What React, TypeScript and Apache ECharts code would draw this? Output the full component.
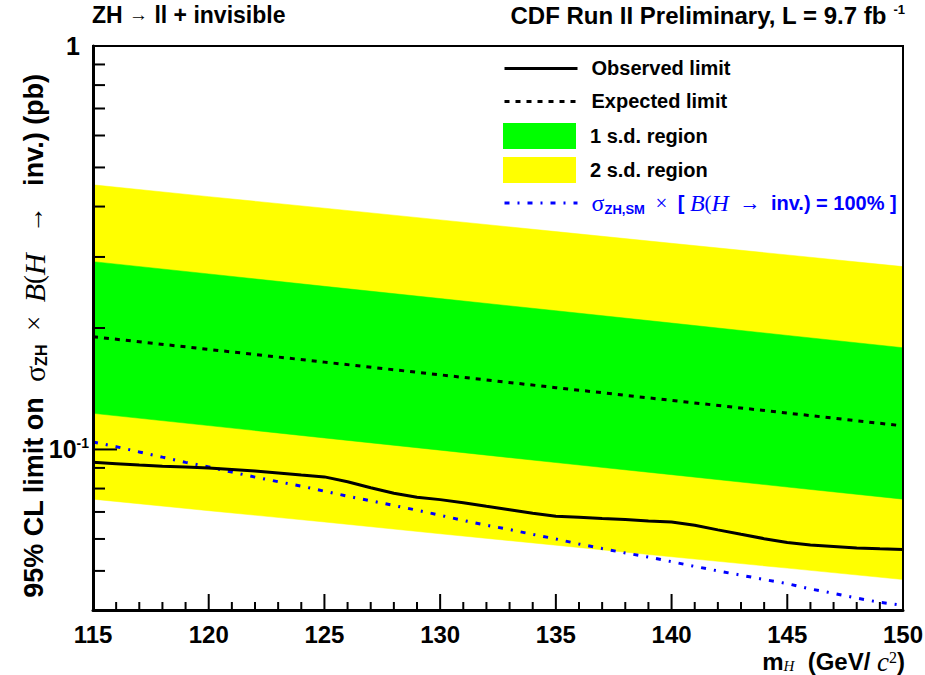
import { useEffect, useRef } from 'react';
import * as echarts from 'echarts';

const SANS = "'Liberation Sans', Arial, Helvetica, sans-serif";
const SERIF = "'Liberation Serif', 'Times New Roman', serif";

// Mass points of the expected limit and its bands (GeV/c^2)
const massGrid = [115, 120, 125, 130, 135, 140, 145, 150];
const expectedLimit = [0.1903, 0.177, 0.1646, 0.1531, 0.1423, 0.1323, 0.1231, 0.1144];
const band1Lo = [0.1229, 0.1146, 0.1068, 0.0996, 0.0928, 0.0866, 0.0807, 0.0753];
const band1Hi = [0.2921, 0.2723, 0.2537, 0.2366, 0.2207, 0.2057, 0.1917, 0.1787];
const band2Lo = [0.0753, 0.0705, 0.0661, 0.0618, 0.0579, 0.0542, 0.0508, 0.0476];
const band2Hi = [0.4528, 0.4233, 0.3963, 0.3707, 0.3467, 0.3243, 0.3035, 0.2839];

// 1 GeV steps for the observed limit and the SM prediction
const massFine = [
  115, 116, 117, 118, 119, 120, 121, 122, 123, 124, 125, 126, 127, 128, 129, 130, 131, 132,
  133, 134, 135, 136, 137, 138, 139, 140, 141, 142, 143, 144, 145, 146, 147, 148, 149, 150,
];
const observedLimit = [
  0.0929, 0.0922, 0.0915, 0.0909, 0.0905, 0.09, 0.0892, 0.0884, 0.0874, 0.0864, 0.0855, 0.0832,
  0.0804, 0.0779, 0.0761, 0.0751, 0.0738, 0.0723, 0.0709, 0.0695, 0.0683, 0.0679, 0.0674, 0.067,
  0.0665, 0.0661, 0.0649, 0.0632, 0.0616, 0.0601, 0.0588, 0.058, 0.0575, 0.057, 0.0567, 0.0565,
];
const smCrossSection = [
  0.1044, 0.1016, 0.0986, 0.0957, 0.0929, 0.0905, 0.0879, 0.0854, 0.0832, 0.0811, 0.0788, 0.0766,
  0.0746, 0.0726, 0.0707, 0.0687, 0.0667, 0.0649, 0.0633, 0.0616, 0.06, 0.0583, 0.0568, 0.0554,
  0.0541, 0.0527, 0.0513, 0.05, 0.0488, 0.0476, 0.0465, 0.0451, 0.044, 0.0428, 0.0418, 0.0411,
];

// Axis tick marks (ROOT style: drawn inward from the frame)
const yMinorTicks = [0.05, 0.06, 0.07, 0.08, 0.09, 0.2, 0.3, 0.4, 0.5, 0.6, 0.7, 0.8, 0.9];
const yMajorTicks = [0.1, 1];
const xMajorTicks = [115, 120, 125, 130, 135, 140, 145, 150];
const xMinorTicks = [
  116, 117, 118, 119, 121, 122, 123, 124, 126, 127, 128, 129, 131, 132, 133, 134, 136, 137, 138,
  139, 141, 142, 143, 144, 146, 147, 148, 149,
];
const Y_MIN = 0.04;
const Y_MAX = 1;

const OBS = 'Observed limit';
const EXP = 'Expected limit';
const S1 = '1 s.d. region';
const S2 = '2 s.d. region';
const SM = 'sigma_ZH_SM';

const pairs = (xs: number[], ys: number[]) => xs.map((x, i) => [x, ys[i]]);

// A filled band between two curves, drawn as one polygon through the axis scales
const bandSeries = (name: string, lo: number[], hi: number[], color: string, z: number) => ({
  name,
  type: 'custom',
  coordinateSystem: 'cartesian2d',
  silent: true,
  z,
  color,
  itemStyle: { color },
  encode: { x: 0, y: [1, 2] },
  data: massGrid.map((m, i) => [m, lo[i], hi[i]]),
  renderItem: (params: any, api: any) => {
    if (params.dataIndex !== 0) return null;
    const upper = massGrid.map((m, i) => api.coord([m, hi[i]]));
    const lower = massGrid.map((m, i) => api.coord([m, lo[i]])).reverse();
    return {
      type: 'polygon',
      shape: { points: upper.concat(lower) },
      style: { fill: color, stroke: color, lineWidth: 0.5 },
    };
  },
});

// Short inward tick drawn as a thin filled bar
const tickRect = (px: number, py: number, len: number, vertical: boolean) => ({
  type: 'rect',
  shape: vertical
    ? { x: px - 1, y: py - len, width: 2, height: len }
    : { x: px, y: py - 1, width: len, height: 2 },
  style: { fill: '#000' },
});

export default function App() {
  const ref = useRef<HTMLDivElement>(null);

  useEffect(() => {
    document.body.style.margin = '0';
    const chart = echarts.init(ref.current!, null, { renderer: 'svg' });

    const blue = '#0000ff';
    const legendRich = {
      pad: { width: 9 },
      b: { fontFamily: SANS, fontWeight: 'bold', fontSize: 20, color: '#000' },
      bb: { fontFamily: SANS, fontWeight: 'bold', fontSize: 20, color: blue },
      bg: { fontFamily: SERIF, fontSize: 24, color: blue },
      bsub: { fontFamily: SANS, fontWeight: 'bold', fontSize: 13, color: blue, padding: [12, 0, 0, 0] },
      bt: { fontFamily: SERIF, fontSize: 21, color: blue },
      bi: { fontFamily: SERIF, fontStyle: 'italic', fontSize: 24, color: blue },
    };
    const hiddenMarker = { opacity: 0 };
    const legendEntry = (name: string, top: number, extra: any) => ({
      orient: 'vertical',
      left: 503,
      top,
      padding: 0,
      itemWidth: 73,
      itemHeight: 26,
      selectedMode: false,
      lineStyle: { width: 'inherit' },
      itemStyle: { borderWidth: 0 },
      data: [{ name, ...extra }],
      formatter: (n: string) =>
        n === SM
          ? '{pad| }{bg|σ}{bsub|ZH,SM}{bt|  ×  }{bb|[ }{bi|B}{bt|(}{bi|H}{bt|  →  }{bb|inv.) = 100% ]}'
          : `{pad| }{b|${n}}`,
      textStyle: { rich: legendRich },
    });

    const yTitle =
      '{b|95% CL limit on  }{g|σ}{sub|ZH}{t|  ×  }{i|B}{t|(}{i|H}{t|   →   }{b|inv.) (pb)}';
    const xTitle = '{b|m}{hs|H}{b|  (GeV/ }{ci|c}{sp|2}{b|)}';

    const option: any = {
      animation: false,
      backgroundColor: '#fff',
      title: [
        {
          text: '{b|ZH }{a|→}{b| ll + invisible}',
          left: 92,
          top: 3,
          padding: 0,
          textStyle: {
            rich: {
              b: { fontFamily: SANS, fontWeight: 'bold', fontSize: 23, color: '#000' },
              a: { fontFamily: SERIF, fontSize: 19, color: '#000' },
            },
          },
        },
        {
          text: '{b|CDF Run II Preliminary, L = 9.7 fb }{s|-1}',
          right: 20,
          top: 3,
          padding: 0,
          textStyle: {
            rich: {
              b: { fontFamily: SANS, fontWeight: 'bold', fontSize: 24, color: '#000' },
              s: { fontFamily: SANS, fontWeight: 'bold', fontSize: 13, color: '#000', padding: [0, 0, 12, 0] },
            },
          },
        },
      ],
      legend: [
        legendEntry(OBS, 58, { itemStyle: hiddenMarker }),
        legendEntry(EXP, 91, { itemStyle: hiddenMarker }),
        legendEntry(S1, 123, { icon: 'rect' }),
        legendEntry(S2, 157, { icon: 'rect' }),
        legendEntry(SM, 191, { itemStyle: hiddenMarker }),
      ],
      graphic: [
        {
          type: 'text',
          x: 34,
          y: 336,
          rotation: Math.PI / 2,
          style: {
            text: yTitle,
            align: 'center',
            verticalAlign: 'middle',
            rich: {
              b: { fontFamily: SANS, fontWeight: 'bold', fontSize: 27, fill: '#000' },
              g: { fontFamily: SERIF, fontSize: 30, fill: '#000' },
              sub: { fontFamily: SANS, fontWeight: 'bold', fontSize: 16, fill: '#000', padding: [14, 0, 0, 0] },
              t: { fontFamily: SERIF, fontSize: 27, fill: '#000' },
              i: { fontFamily: SERIF, fontStyle: 'italic', fontSize: 30, fill: '#000' },
            },
          },
        },
        {
          type: 'text',
          right: 20,
          top: 648,
          style: {
            text: xTitle,
            rich: {
              b: { fontFamily: SANS, fontWeight: 'bold', fontSize: 24, fill: '#000', lineHeight: 24 },
              hs: { fontFamily: SERIF, fontStyle: 'italic', fontSize: 15, fill: '#000', lineHeight: 14, padding: [9, 0, 0, 0] },
              ci: { fontFamily: SERIF, fontStyle: 'italic', fontSize: 27, fill: '#000', lineHeight: 24 },
              sp: { fontFamily: SERIF, fontSize: 16, fill: '#000', lineHeight: 14, padding: [0, 0, 9, 0] },
            },
          },
        },
      ],
      grid: {
        left: 93,
        right: 22,
        top: 46,
        bottom: 65,
        outerBoundsMode: 'none',
        containLabel: false,
        show: true,
        borderColor: '#000',
        borderWidth: 2,
        z: 6,
      },
      xAxis: {
        type: 'value',
        min: 115,
        max: 150,
        interval: 5,
        z: 7,
        axisLine: { show: true, onZero: false, lineStyle: { color: '#000', width: 3 } },
        axisTick: { show: false },
        minorTick: { show: false },
        splitLine: { show: false },
        minorSplitLine: { show: false },
        axisLabel: {
          color: '#000',
          fontFamily: SANS,
          fontWeight: 'bold',
          fontSize: 24,
          lineHeight: 20,
          margin: 14,
        },
      },
      yAxis: {
        type: 'log',
        logBase: 10,
        min: Y_MIN,
        max: Y_MAX,
        z: 7,
        axisLine: { show: true, onZero: false, lineStyle: { color: '#000', width: 3 } },
        axisTick: { show: false },
        minorTick: { show: false },
        splitLine: { show: false },
        axisLabel: {
          margin: 4,
          formatter: (v: number) => {
            const l = Math.log10(v);
            if (Math.abs(l) < 1e-6) return '{one|1}';
            if (Math.abs(l + 1) < 1e-6) return '{ten|10}{sup|-1}';
            return '';
          },
          rich: {
            one: { fontFamily: SANS, fontWeight: 'bold', fontSize: 25, color: '#000', padding: [0, 9, 0, 0] },
            ten: { fontFamily: SANS, fontWeight: 'bold', fontSize: 25, color: '#000' },
            sup: { fontFamily: SANS, fontWeight: 'bold', fontSize: 14, color: '#000', padding: [0, 0, 12, 0] },
          },
        },
      },
      series: [
        bandSeries(S2, band2Lo, band2Hi, '#ffff00', 1),
        bandSeries(S1, band1Lo, band1Hi, '#00ff00', 2),
        {
          name: EXP,
          type: 'line',
          data: pairs(massGrid, expectedLimit),
          symbol: 'none',
          silent: true,
          color: '#000',
          lineStyle: { color: '#000', width: 3, type: [5, 6] },
          z: 3,
        },
        {
          name: SM,
          type: 'line',
          data: pairs(massFine, smCrossSection),
          symbol: 'none',
          silent: true,
          color: blue,
          lineStyle: { color: blue, width: 3, type: [5, 8, 2, 8] },
          z: 3,
        },
        {
          name: OBS,
          type: 'line',
          data: pairs(massFine, observedLimit),
          symbol: 'none',
          silent: true,
          color: '#000',
          lineStyle: { color: '#000', width: 3 },
          z: 4,
        },
        {
          // y ticks: kind 0 = minor, 1 = major
          name: 'y-ticks',
          type: 'custom',
          coordinateSystem: 'cartesian2d',
          silent: true,
          clip: false,
          z: 20,
          encode: { x: 0, y: 1 },
          data: [
            ...yMinorTicks.map((v) => [xMajorTicks[0], v, 0]),
            ...yMajorTicks.map((v) => [xMajorTicks[0], v, 1]),
          ],
          renderItem: (_params: any, api: any) => {
            const p = api.coord([api.value(0), api.value(1)]);
            return tickRect(p[0], p[1], api.value(2) ? 24 : 12, false);
          },
        },
        {
          // x ticks: placed from two interior points of the log scale, then carried
          // down to the frame bottom at Y_MIN along the same log mapping
          name: 'x-ticks',
          type: 'custom',
          coordinateSystem: 'cartesian2d',
          silent: true,
          clip: false,
          z: 20,
          encode: { x: 0, y: 1 },
          data: [
            ...xMinorTicks.map((m) => [m, yMajorTicks[0], 0]),
            ...xMajorTicks.map((m) => [m, yMajorTicks[0], 1]),
          ],
          renderItem: (_params: any, api: any) => {
            const m = api.value(0);
            const p = api.coord([m, 0.1]);
            const q = api.coord([m, 0.5]);
            const pxPerDecade = (p[1] - q[1]) / Math.log10(5);
            const bottom = p[1] + pxPerDecade * Math.log10(0.1 / Y_MIN);
            return tickRect(p[0], bottom, api.value(2) ? 16 : 8, true);
          },
        },
      ],
    };

    chart.setOption(option);
    return () => chart.dispose();
  }, []);

  return <div ref={ref} style={{ width: 925, height: 675 }} />;
}
